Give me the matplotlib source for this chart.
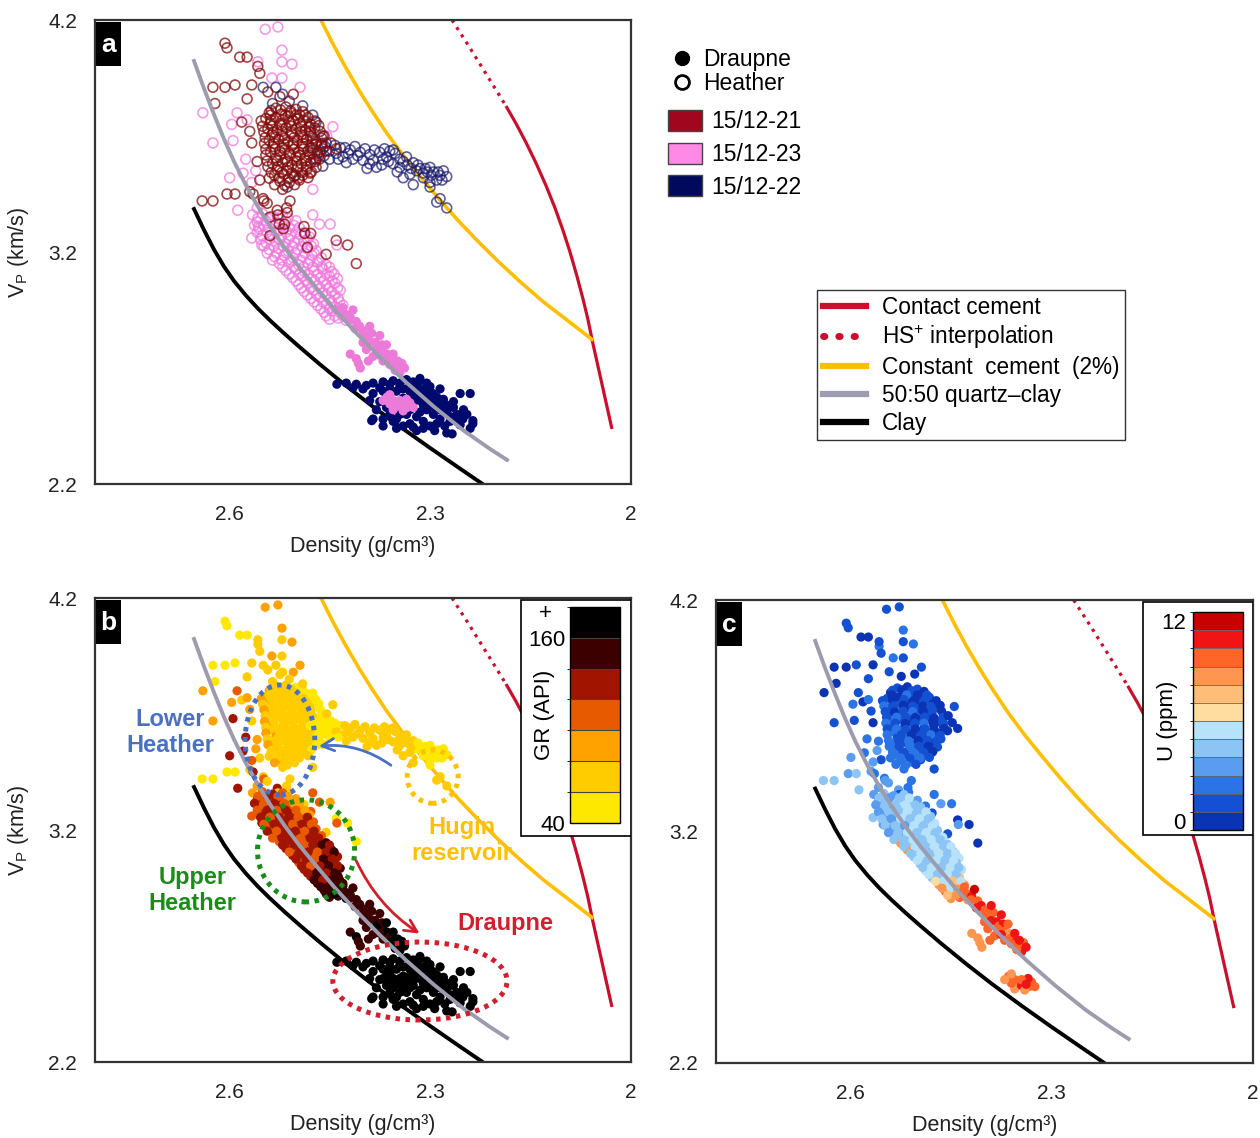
import numpy as np
import matplotlib
matplotlib.use('Agg')
import matplotlib.pyplot as plt
from matplotlib.colors import ListedColormap, BoundaryNorm
from matplotlib.patches import Ellipse, Rectangle, Patch, FancyArrowPatch
from matplotlib.lines import Line2D
import matplotlib.cm as cm

plt.rcParams['font.family'] = ['Liberation Sans', 'DejaVu Sans']
plt.rcParams['mathtext.fontset'] = 'custom'
plt.rcParams['mathtext.rm'] = 'Liberation Sans'
plt.rcParams['mathtext.it'] = 'Liberation Sans:italic'
plt.rcParams['mathtext.bf'] = 'Liberation Sans:bold'

# ---------------- model curves (density g/cm3, Vp km/s) ----------------
CLAY_RHO = [2.6522, 2.6373, 2.6224, 2.6075, 2.5925, 2.5746, 2.5567, 2.5388, 2.5179, 2.4940,
            2.4642, 2.4269, 2.3896, 2.3448, 2.3000, 2.2552, 2.2224, 2.2030]
CLAY_VP = [3.3853, 3.2948, 3.2108, 3.1375, 3.0750, 3.0121, 2.9560, 2.9052, 2.8496, 2.7888,
           2.7155, 2.6272, 2.5431, 2.4474, 2.3556, 2.2664, 2.2017, 2.1630]
QC5050_RHO = [2.6522, 2.6373, 2.6224, 2.6075, 2.5925, 2.5761, 2.5582, 2.5388, 2.5179, 2.4955,
              2.4701, 2.4418, 2.4104, 2.3746, 2.3358, 2.2940, 2.2493, 2.2104, 2.1851]
QC5050_VP = [4.0233, 3.9047, 3.7927, 3.6871, 3.5901, 3.4953, 3.4022, 3.3112, 3.2224, 3.1358,
             3.0466, 2.9500, 2.8522, 2.7466, 2.6388, 2.5328, 2.4293, 2.3509, 2.3039]
CONST_RHO = [2.4627, 2.4448, 2.4269, 2.4075, 2.3866, 2.3642, 2.3403, 2.3149, 2.2881, 2.2597,
             2.2299, 2.1985, 2.1657, 2.1313, 2.0955, 2.0582]
CONST_VP = [4.2000, 4.0966, 4.0009, 3.9043, 3.8078, 3.7108, 3.6177, 3.5267, 3.4341, 3.3409,
            3.2504, 3.1603, 3.0724, 2.9862, 2.9065, 2.8233]
CONTACT_RHO = [2.1866, 2.1716, 2.1567, 2.1418, 2.1269, 2.1134, 2.1015, 2.0910, 2.0806, 2.0716,
               2.0642, 2.0582, 2.0284]
CONTACT_VP = [3.8293, 3.7539, 3.6720, 3.5836, 3.4866, 3.3897, 3.2931, 3.1996, 3.0953, 2.9970,
              2.9086, 2.8233, 2.4371]
HS_RHO = [2.2672, 2.2403, 2.2134, 2.1866]
HS_VP = [4.2000, 4.0793, 3.9543, 3.8293]

# ---------------- well-log points: (density, Vp, GR [API], U [ppm]) ----------------
W21_HEATHER = [  # 15/12-21 Heather
    (2.606, 4.10, 50, 1.5), (2.603, 4.08, 50, 1.5), (2.584, 4.04, 55, 0.5), (2.573, 4.04, 55, 0.5),
    (2.557, 4.00, 70, 2.5), (2.554, 3.97, 70, 1.5), (2.624, 3.91, 50, 0.5), (2.606, 3.91, 50, 0.5),
    (2.591, 3.92, 55, 1.5), (2.566, 3.92, 70, 0.5), (2.621, 3.84, 50, 0.5), (2.573, 3.86, 70, 1.5),
    (2.581, 3.76, 75, 0.5), (2.569, 3.72, 85, 1.5), (2.566, 3.67, 70, 0.5), (2.558, 3.59, 85, 2.5),
    (2.554, 3.51, 70, 1.5), (2.542, 3.89, 70, 1.5), (2.524, 3.87, 70, 0.5), (2.504, 3.88, 85, 0.5),
    (2.479, 3.54, 65, 0.5),
    (2.640, 3.42, 50, 4.5), (2.624, 3.42, 50, 4.5), (2.603, 3.45, 55, 3.5), (2.591, 3.45, 55, 4.5),
    (2.569, 3.46, 70, 3.5), (2.549, 3.43, 70, 2.5), (2.528, 3.38, 130, 3.5), (2.539, 3.35, 110, 4.5),
    (2.564, 3.45, 130, 2.5), (2.548, 3.42, 110, 3.5),
    (2.509, 3.42, 70, 2.5), (2.527, 3.36, 70, 1.5), (2.517, 3.32, 130, 3.5), (2.488, 3.31, 70, 2.5),
    (2.478, 3.28, 110, 1.5), (2.483, 3.22, 130, 2.5), (2.455, 3.19, 70, 1.5), (2.423, 3.23, 55, 0.5),
    (2.410, 3.15, 55, 0.5), (2.525, 3.32, 130, 3.5), (2.514, 3.39, 65, 2.5), (2.543, 3.41, 70, 3.5),
    (2.519, 3.30, 110, 3.5), (2.513, 3.37, 65, 2.5), (2.487, 3.28, 90, 2.5), (2.539, 3.27, 130, 3.5),
    (2.440, 3.25, 55, 0.5),
    (2.530, 3.820, 70, 1.5), (2.515, 3.825, 70, 0.5), (2.500, 3.815, 55, 1.5),
    (2.540, 3.800, 85, 0.5), (2.522, 3.795, 70, 1.5), (2.508, 3.800, 70, 2.5), (2.490, 3.805, 55, 0.5),
    (2.545, 3.775, 70, 1.5), (2.530, 3.780, 70, 0.5), (2.512, 3.785, 70, 1.5), (2.497, 3.775, 65, 0.5), (2.482, 3.780, 55, 1.5),
    (2.538, 3.755, 85, 2.5), (2.524, 3.750, 70, 1.5), (2.510, 3.760, 70, 0.5), (2.494, 3.755, 70, 1.5), (2.478, 3.750, 65, 0.5),
    (2.542, 3.730, 70, 1.5), (2.528, 3.725, 70, 2.5), (2.515, 3.735, 70, 0.5), (2.500, 3.730, 70, 1.5), (2.486, 3.725, 65, 0.5), (2.472, 3.735, 55, 1.5),
    (2.536, 3.705, 85, 1.5), (2.520, 3.700, 70, 0.5), (2.507, 3.710, 70, 1.5), (2.492, 3.705, 70, 2.5), (2.478, 3.700, 65, 0.5),
    (2.540, 3.680, 70, 2.5), (2.526, 3.685, 70, 1.5), (2.512, 3.675, 70, 0.5), (2.498, 3.680, 70, 1.5), (2.484, 3.685, 65, 0.5), (2.470, 3.675, 55, 1.5),
    (2.534, 3.655, 85, 1.5), (2.520, 3.650, 70, 2.5), (2.505, 3.660, 70, 1.5), (2.490, 3.655, 70, 0.5), (2.476, 3.650, 65, 1.5),
    (2.538, 3.630, 70, 2.5), (2.524, 3.635, 70, 1.5), (2.510, 3.625, 70, 0.5), (2.496, 3.630, 70, 1.5), (2.482, 3.635, 65, 2.5), (2.468, 3.625, 55, 0.5),
    (2.530, 3.605, 85, 1.5), (2.516, 3.600, 70, 2.5), (2.500, 3.610, 70, 1.5), (2.487, 3.605, 70, 0.5), (2.474, 3.600, 65, 1.5),
    (2.535, 3.580, 70, 2.5), (2.520, 3.585, 70, 1.5), (2.506, 3.575, 70, 2.5), (2.492, 3.580, 70, 1.5), (2.478, 3.585, 65, 0.5),
    (2.528, 3.555, 85, 2.5), (2.513, 3.550, 70, 1.5), (2.498, 3.560, 70, 2.5), (2.484, 3.555, 70, 1.5),
    (2.532, 3.530, 70, 2.5), (2.518, 3.535, 70, 1.5), (2.503, 3.525, 70, 2.5), (2.490, 3.530, 65, 1.5),
    (2.524, 3.505, 85, 2.5), (2.510, 3.500, 70, 2.5), (2.495, 3.510, 70, 1.5),
    (2.462, 3.660, 55, 0.5), (2.455, 3.635, 55, 0.5), (2.458, 3.700, 55, 1.5), (2.448, 3.670, 55, 0.5),
    (2.465, 3.600, 55, 1.5), (2.440, 3.645, 55, 0.5),
    (2.537, 3.810, 70, 1.5), (2.523, 3.812, 70, 0.5), (2.508, 3.808, 65, 1.5), (2.494, 3.790, 55, 0.5),
    (2.538, 3.790, 70, 0.5), (2.516, 3.790, 70, 2.5), (2.500, 3.790, 70, 0.5), (2.486, 3.790, 55, 1.5),
    (2.552, 3.765, 85, 1.5), (2.537, 3.768, 70, 0.5), (2.520, 3.770, 70, 1.5), (2.504, 3.766, 70, 0.5), (2.489, 3.768, 65, 1.5), (2.472, 3.765, 55, 0.5),
    (2.550, 3.742, 70, 2.5), (2.535, 3.743, 70, 1.5), (2.521, 3.745, 70, 0.5), (2.507, 3.742, 70, 1.5), (2.492, 3.742, 70, 0.5), (2.480, 3.740, 65, 1.5), (2.466, 3.745, 55, 0.5),
    (2.548, 3.718, 85, 1.5), (2.534, 3.716, 70, 0.5), (2.521, 3.720, 70, 1.5), (2.507, 3.718, 70, 2.5), (2.492, 3.720, 70, 0.5), (2.478, 3.716, 65, 1.5), (2.464, 3.720, 55, 0.5),
    (2.546, 3.693, 70, 1.5), (2.531, 3.694, 70, 2.5), (2.517, 3.690, 70, 1.5), (2.503, 3.693, 70, 0.5), (2.489, 3.694, 70, 1.5), (2.475, 3.690, 65, 0.5), (2.462, 3.692, 55, 1.5),
    (2.547, 3.668, 85, 2.5), (2.533, 3.668, 70, 1.5), (2.518, 3.666, 70, 0.5), (2.504, 3.668, 70, 1.5), (2.490, 3.668, 70, 2.5), (2.476, 3.666, 65, 0.5), (2.461, 3.668, 55, 1.5),
    (2.545, 3.643, 70, 1.5), (2.531, 3.643, 70, 2.5), (2.517, 3.641, 70, 1.5), (2.503, 3.643, 70, 0.5), (2.489, 3.643, 70, 1.5), (2.475, 3.641, 65, 0.5), (2.460, 3.645, 55, 0.5),
    (2.545, 3.618, 85, 2.5), (2.524, 3.618, 70, 1.5), (2.509, 3.616, 70, 0.5), (2.494, 3.618, 70, 1.5), (2.480, 3.618, 65, 2.5), (2.466, 3.615, 55, 1.5),
    (2.543, 3.593, 70, 2.5), (2.528, 3.593, 70, 1.5), (2.513, 3.591, 70, 2.5), (2.499, 3.593, 70, 0.5), (2.485, 3.593, 70, 1.5), (2.471, 3.590, 65, 1.5),
    (2.542, 3.568, 85, 2.5), (2.527, 3.568, 70, 1.5), (2.512, 3.566, 70, 2.5), (2.498, 3.568, 70, 1.5), (2.484, 3.568, 65, 0.5), (2.470, 3.565, 55, 1.5),
    (2.537, 3.543, 70, 2.5), (2.521, 3.543, 70, 1.5), (2.506, 3.541, 70, 2.5), (2.491, 3.543, 65, 1.5), (2.477, 3.545, 55, 0.5),
    (2.540, 3.518, 70, 2.5), (2.525, 3.518, 70, 2.5), (2.511, 3.516, 70, 1.5), (2.496, 3.518, 70, 2.5), (2.482, 3.520, 65, 1.5),
    (2.532, 3.490, 85, 2.5), (2.517, 3.488, 70, 2.5), (2.502, 3.490, 70, 1.5), (2.520, 3.470, 70, 2.5),
]

W23_HEATHER = [  # 15/12-23 Heather
    (2.546, 4.16, 90, 1.5), (2.527, 4.17, 90, 1.5), (2.521, 4.07, 90, 2.5), (2.521, 4.02, 70, 1.5),
    (2.506, 4.01, 90, 2.5), (2.557, 4.02, 70, 1.5), (2.536, 3.95, 90, 2.5), (2.521, 3.95, 70, 1.5),
    (2.494, 3.91, 85, 1.5), (2.639, 3.80, 90, 0.5), (2.624, 3.67, 90, 1.5), (2.594, 3.68, 130, 1.5),
    (2.596, 3.75, 90, 2.5), (2.588, 3.80, 110, 1.5), (2.573, 3.77, 90, 2.5), (2.599, 3.52, 130, 3.5),
    (2.579, 3.54, 130, 2.5), (2.566, 3.50, 110, 3.5), (2.475, 3.47, 70, 1.5), (2.445, 3.74, 65, 1.5),
    (2.454, 3.70, 65, 0.5), (2.558, 3.39, 90, 3.5), (2.587, 3.38, 130, 4.5), (2.475, 3.36, 110, 2.5),
    (2.575, 3.60, 130, 2.5), (2.560, 3.55, 90, 3.5), (2.566, 3.26, 110, 4.5), (2.551, 3.23, 130, 3.5),
    (2.556, 3.31, 110, 4.5), (2.439, 3.23, 110, 3.5), (2.449, 3.32, 90, 2.5), (2.465, 3.32, 110, 3.5),
    (2.565, 3.360, 90, 3.5), (2.550, 3.365, 110, 4.5), (2.535, 3.355, 130, 3.5), (2.520, 3.360, 110, 4.5),
    (2.558, 3.330, 130, 3.5), (2.545, 3.335, 110, 4.5), (2.530, 3.325, 130, 5.5), (2.515, 3.330, 110, 4.5), (2.500, 3.335, 90, 3.5),
    (2.555, 3.300, 110, 4.5), (2.540, 3.305, 130, 3.5), (2.525, 3.295, 130, 4.5), (2.510, 3.300, 110, 5.5), (2.495, 3.305, 90, 4.5),
    (2.550, 3.270, 130, 3.5), (2.536, 3.275, 130, 4.5), (2.522, 3.265, 110, 5.5), (2.508, 3.270, 130, 4.5), (2.493, 3.275, 110, 5.5), (2.480, 3.265, 90, 4.5),
    (2.545, 3.240, 130, 4.5), (2.530, 3.245, 110, 3.5), (2.516, 3.235, 130, 4.5), (2.502, 3.240, 130, 5.5), (2.488, 3.245, 110, 4.5), (2.474, 3.235, 110, 5.5),
    (2.540, 3.210, 110, 3.5), (2.526, 3.215, 130, 4.5), (2.512, 3.205, 130, 5.5), (2.498, 3.210, 110, 4.5), (2.484, 3.215, 130, 5.5), (2.470, 3.205, 110, 4.5),
    (2.532, 3.180, 130, 4.5), (2.518, 3.185, 130, 3.5), (2.504, 3.175, 110, 4.5), (2.490, 3.180, 130, 5.5), (2.476, 3.185, 130, 4.5), (2.462, 3.175, 110, 5.5),
    (2.525, 3.150, 110, 8.5), (2.510, 3.155, 130, 4.5), (2.496, 3.145, 130, 5.5), (2.482, 3.150, 110, 4.5), (2.468, 3.155, 130, 5.5), (2.455, 3.145, 150, 4.5),
    (2.515, 3.120, 130, 8.5), (2.500, 3.125, 110, 4.5), (2.487, 3.115, 130, 3.5), (2.473, 3.120, 130, 6.5), (2.460, 3.125, 110, 5.5), (2.447, 3.115, 150, 4.5),
    (2.505, 3.090, 130, 4.5), (2.490, 3.095, 130, 5.5), (2.477, 3.085, 110, 4.5), (2.463, 3.090, 130, 5.5), (2.450, 3.095, 150, 4.5), (2.438, 3.085, 130, 5.5),
    (2.496, 3.060, 110, 4.5), (2.482, 3.065, 130, 5.5), (2.468, 3.055, 130, 4.5), (2.455, 3.060, 150, 5.5), (2.442, 3.065, 130, 4.5),
    (2.488, 3.030, 130, 5.5), (2.474, 3.035, 130, 4.5), (2.460, 3.025, 150, 5.5), (2.447, 3.030, 130, 4.5), (2.434, 3.035, 150, 5.5),
    (2.478, 3.000, 130, 4.5), (2.464, 3.005, 150, 5.5), (2.450, 2.995, 130, 4.5), (2.437, 3.000, 150, 7.5),
    (2.468, 2.970, 150, 8.5), (2.455, 2.975, 150, 5.5), (2.442, 2.965, 130, 7.5), (2.430, 2.970, 150, 8.5),
    (2.458, 2.940, 150, 9.5), (2.446, 2.945, 150, 8.5), (2.433, 2.935, 170, 7.5),
    (2.450, 2.910, 150, 8.5), (2.437, 2.915, 150, 9.5), (2.425, 2.905, 170, 8.5),
    (2.557, 3.345, 110, 4.5), (2.542, 3.345, 130, 3.5), (2.527, 3.345, 110, 4.5), (2.512, 3.345, 90, 5.5),
    (2.562, 3.315, 130, 3.5), (2.548, 3.315, 110, 4.5), (2.533, 3.315, 130, 4.5), (2.518, 3.315, 110, 5.5), (2.503, 3.315, 90, 4.5),
    (2.558, 3.285, 110, 3.5), (2.543, 3.285, 130, 4.5), (2.529, 3.285, 110, 4.5), (2.515, 3.285, 130, 5.5), (2.500, 3.285, 110, 4.5), (2.487, 3.285, 90, 5.5),
    (2.553, 3.255, 130, 4.5), (2.539, 3.255, 110, 3.5), (2.525, 3.255, 130, 5.5), (2.511, 3.255, 130, 4.5), (2.497, 3.255, 110, 5.5), (2.483, 3.255, 130, 4.5),
    (2.548, 3.225, 110, 4.5), (2.533, 3.225, 130, 4.5), (2.519, 3.225, 130, 3.5), (2.505, 3.225, 110, 5.5), (2.491, 3.225, 130, 4.5), (2.477, 3.225, 110, 5.5),
    (2.543, 3.195, 130, 3.5), (2.529, 3.195, 110, 4.5), (2.515, 3.195, 130, 5.5), (2.501, 3.195, 130, 4.5), (2.487, 3.195, 110, 5.5), (2.473, 3.195, 130, 4.5),
    (2.535, 3.165, 110, 4.5), (2.521, 3.165, 130, 4.5), (2.507, 3.165, 130, 5.5), (2.493, 3.165, 110, 4.5), (2.479, 3.165, 130, 5.5), (2.466, 3.165, 130, 4.5),
    (2.520, 3.135, 130, 4.5), (2.503, 3.135, 130, 5.5), (2.489, 3.135, 110, 4.5), (2.475, 3.135, 130, 5.5), (2.461, 3.135, 150, 4.5), (2.450, 3.135, 130, 5.5),
    (2.510, 3.105, 110, 4.5), (2.495, 3.105, 130, 5.5), (2.482, 3.105, 130, 4.5), (2.468, 3.105, 110, 5.5), (2.455, 3.105, 130, 4.5), (2.443, 3.105, 150, 5.5),
    (2.500, 3.075, 130, 5.5), (2.485, 3.075, 130, 4.5), (2.472, 3.075, 110, 5.5), (2.459, 3.075, 150, 4.5), (2.446, 3.075, 130, 5.5),
    (2.492, 3.045, 130, 4.5), (2.478, 3.045, 110, 5.5), (2.464, 3.045, 130, 4.5), (2.451, 3.045, 150, 5.5), (2.438, 3.045, 130, 4.5),
    (2.483, 3.015, 130, 5.5), (2.469, 3.015, 150, 4.5), (2.455, 3.015, 130, 5.5), (2.442, 3.015, 150, 4.5),
    (2.473, 2.985, 150, 6.5), (2.460, 2.985, 130, 5.5), (2.447, 2.985, 150, 7.5), (2.435, 2.985, 150, 5.5),
    (2.463, 2.955, 150, 8.5), (2.450, 2.955, 150, 5.5), (2.438, 2.955, 150, 7.5),
    (2.455, 2.925, 150, 7.5), (2.442, 2.925, 170, 8.5), (2.430, 2.925, 150, 9.5),
]

W23_DRAUPNE = [  # 15/12-23 Draupne
    (2.425, 2.93, 150, 9.5), (2.419, 2.92, 150, 10.5), (2.410, 2.90, 150, 9.5), (2.405, 2.88, 150, 10.5),
    (2.400, 2.86, 150, 9.5), (2.394, 2.83, 170, 10.5), (2.387, 2.85, 150, 9.5), (2.382, 2.81, 150, 10.5),
    (2.379, 2.79, 170, 9.5), (2.372, 2.80, 150, 10.5), (2.370, 2.77, 150, 9.5), (2.364, 2.76, 170, 8.5),
    (2.360, 2.74, 150, 9.5), (2.355, 2.72, 170, 10.5), (2.350, 2.70, 170, 9.5), (2.345, 2.68, 170, 10.5),
    (2.419, 2.76, 150, 8.5), (2.404, 2.70, 150, 8.5), (2.410, 2.74, 170, 8.5), (2.385, 2.75, 150, 9.5),
    (2.395, 2.78, 150, 9.5), (2.400, 2.81, 150, 9.5), (2.390, 2.88, 150, 10.5), (2.375, 2.84, 150, 10.5),
    (2.365, 2.80, 170, 9.5), (2.355, 2.76, 170, 10.5), (2.342, 2.72, 170, 9.5), (2.338, 2.70, 170, 10.5),
    (2.440, 2.95, 150, 8.5), (2.430, 2.96, 150, 9.5), (2.415, 2.95, 150, 11.5),
    (2.432, 2.94, 150, 9.5), (2.420, 2.905, 150, 9.5), (2.412, 2.87, 150, 10.5), (2.397, 2.845, 150, 9.5),
    (2.390, 2.815, 150, 10.5), (2.380, 2.78, 170, 9.5), (2.375, 2.755, 150, 10.5), (2.360, 2.715, 170, 9.5),
    (2.348, 2.73, 170, 10.5), (2.352, 2.69, 170, 9.5), (2.370, 2.73, 150, 9.5), (2.407, 2.72, 150, 8.5),
    (2.392, 2.73, 150, 9.5),
    (2.364, 2.575, 170, 9.5), (2.349, 2.550, 170, 8.5), (2.334, 2.530, 170, 9.5), (2.355, 2.520, 170, 8.5),
    (2.360, 2.545, 170, 9.5), (2.345, 2.535, 170, 10.5), (2.330, 2.550, 170, 9.5), (2.370, 2.560, 170, 8.5),
    (2.355, 2.560, 170, 9.5), (2.340, 2.515, 170, 8.5), (2.325, 2.530, 170, 9.5), (2.335, 2.565, 170, 10.5),
    (2.360, 2.585, 170, 8.5), (2.345, 2.560, 170, 9.5), (2.338, 2.540, 170, 10.5),
]

W22_HEATHER = [  # 15/12-22 Heather (no U log)
    (2.549, 3.91, 70), (2.530, 3.91, 70), (2.520, 3.88, 65), (2.490, 3.83, 65), (2.475, 3.79, 55),
    (2.470, 3.76, 55), (2.480, 3.72, 65), (2.460, 3.70, 55), (2.455, 3.67, 55), (2.501, 3.53, 65),
    (2.513, 3.48, 70), (2.470, 3.60, 55), (2.460, 3.57, 55), (2.535, 3.84, 70), (2.510, 3.85, 65),
    (2.479, 3.65, 55), (2.464, 3.63, 55), (2.450, 3.635, 55), (2.434, 3.65, 55), (2.419, 3.64, 65),
    (2.404, 3.63, 65), (2.390, 3.62, 65), (2.375, 3.63, 65), (2.365, 3.61, 70), (2.360, 3.635, 65),
    (2.345, 3.60, 65), (2.334, 3.575, 65), (2.325, 3.585, 65), (2.315, 3.56, 55), (2.304, 3.545, 55),
    (2.295, 3.545, 55), (2.285, 3.53, 55), (2.290, 3.51, 55), (2.325, 3.49, 65), (2.394, 3.56, 65),
    (2.380, 3.565, 65), (2.349, 3.545, 65), (2.340, 3.52, 65), (2.310, 3.52, 55), (2.300, 3.50, 55),
    (2.290, 3.415, 65), (2.275, 3.39, 65), (2.450, 3.60, 55), (2.430, 3.61, 65), (2.415, 3.60, 65),
    (2.400, 3.595, 65), (2.355, 3.64, 65), (2.335, 3.61, 65), (2.320, 3.55, 55), (2.300, 3.565, 55),
    (2.280, 3.55, 55), (2.275, 3.525, 55), (2.355, 3.58, 65), (2.330, 3.535, 65), (2.370, 3.60, 65),
    (2.440, 3.625, 65), (2.425, 3.585, 65),
    (2.470, 3.665, 55), (2.457, 3.655, 55), (2.442, 3.66, 55), (2.427, 3.65, 65), (2.412, 3.655, 65),
    (2.397, 3.645, 65), (2.383, 3.64, 65), (2.368, 3.645, 65), (2.352, 3.625, 65), (2.340, 3.59, 65),
    (2.328, 3.56, 65), (2.318, 3.575, 55), (2.307, 3.56, 55), (2.298, 3.53, 55), (2.288, 3.545, 55),
    (2.282, 3.51, 55), (2.310, 3.54, 55), (2.345, 3.565, 65), (2.362, 3.59, 65), (2.385, 3.595, 65),
    (2.408, 3.615, 65), (2.422, 3.625, 65), (2.437, 3.60, 55), (2.458, 3.615, 55), (2.390, 3.58, 65),
    (2.372, 3.575, 65), (2.300, 3.48, 55), (2.285, 3.43, 65),
]

W22_DRAUPNE = [  # 15/12-22 Draupne (no U log)
    (2.439, 2.630, 170), (2.425, 2.635, 170), (2.410, 2.630, 170), (2.395, 2.625, 170), (2.385, 2.635, 170),
    (2.370, 2.640, 170), (2.355, 2.645, 170), (2.345, 2.635, 170), (2.335, 2.650, 170), (2.325, 2.640, 170),
    (2.315, 2.655, 170), (2.305, 2.635, 170), (2.300, 2.620, 170), (2.390, 2.560, 170), (2.375, 2.555, 170),
    (2.385, 2.590, 170), (2.370, 2.600, 170), (2.360, 2.610, 170), (2.350, 2.600, 170), (2.340, 2.610, 170),
    (2.330, 2.600, 170), (2.320, 2.610, 170), (2.310, 2.590, 170), (2.315, 2.560, 170), (2.300, 2.575, 170),
    (2.290, 2.575, 170), (2.325, 2.575, 170), (2.305, 2.520, 170), (2.290, 2.530, 170), (2.275, 2.510, 170),
    (2.280, 2.545, 170), (2.265, 2.530, 170), (2.251, 2.480, 170), (2.260, 2.500, 170), (2.240, 2.590, 170),
    (2.255, 2.590, 170), (2.236, 2.460, 170), (2.245, 2.500, 170), (2.385, 2.480, 170), (2.370, 2.450, 170),
    (2.387, 2.473, 170), (2.300, 2.450, 170), (2.275, 2.420, 170), (2.267, 2.416, 170), (2.293, 2.430, 170),
    (2.320, 2.490, 170), (2.310, 2.470, 170), (2.335, 2.500, 170), (2.350, 2.480, 170), (2.330, 2.460, 170),
    (2.285, 2.480, 170), (2.270, 2.470, 170), (2.255, 2.455, 170), (2.295, 2.500, 170), (2.340, 2.570, 170),
    (2.325, 2.550, 170), (2.310, 2.540, 170), (2.295, 2.555, 170), (2.280, 2.565, 170), (2.265, 2.555, 170),
    (2.250, 2.520, 170), (2.236, 2.473, 170), (2.240, 2.440, 170), (2.320, 2.430, 170), (2.350, 2.440, 170),
    (2.360, 2.500, 170), (2.300, 2.600, 170), (2.285, 2.610, 170),
    (2.345, 2.620, 170), (2.330, 2.625, 170), (2.318, 2.635, 170), (2.308, 2.610, 170), (2.296, 2.590, 170),
    (2.320, 2.590, 170), (2.305, 2.560, 170), (2.290, 2.560, 170), (2.275, 2.540, 170), (2.285, 2.520, 170),
    (2.270, 2.490, 170), (2.260, 2.475, 170), (2.300, 2.535, 170), (2.315, 2.510, 170), (2.330, 2.520, 170),
    (2.345, 2.500, 170), (2.355, 2.470, 170), (2.340, 2.450, 170), (2.325, 2.445, 170), (2.310, 2.440, 170),
    (2.290, 2.460, 170), (2.278, 2.450, 170), (2.360, 2.630, 170), (2.375, 2.615, 170), (2.400, 2.610, 170),
    (2.415, 2.615, 170), (2.370, 2.480, 170), (2.380, 2.520, 170), (2.365, 2.530, 170), (2.250, 2.500, 170),
]

WELL_NAMES = ['15/12-21', '15/12-23', '15/12-22']
WELL_COLORS = ['#a0061e', '#ff8ae6', '#000a5c']
GR_BOUNDS = [40, 60, 80, 100, 120, 140, 160, 180]
GR_COLORS = ['#ffe800', '#ffcc00', '#ffa200', '#e85a00', '#a01400', '#3c0000', '#000000']
U_BOUNDS = list(range(0, 13))
U_COLORS = ['#0a34b4', '#1450d2', '#2a74e6', '#5a9cf0', '#8cc4f5', '#b6e2fa',
            '#ffdca0', '#ffbe78', '#ff9650', '#ff6428', '#f01414', '#c80000']
LINE_LABELS = ['Contact cement', 'HS$^{+}$ interpolation', 'Constant  cement  (2%)',
               '50:50 quartz\u2013clay', 'Clay']

W = 1260
H = 1138


def arr(rows):
    return np.array(rows, dtype=float)


def fig_rect(x0, y0, x1, y1):
    return [x0 / W, 1 - y1 / H, (x1 - x0) / W, (y1 - y0) / H]


C_RED = '#c8102e'
C_YEL = '#ffbf00'
C_GRY = '#9c9cae'


def setup_axes(ax, letter, ylab=True):
    ax.set_xlim(2.8, 2.0)
    ax.set_ylim(2.2, 4.2)
    ax.set_xticks([2.6, 2.3, 2.0])
    ax.set_xticklabels(['2.6', '2.3', '2'])
    ax.set_yticks([2.2, 3.2, 4.2])
    ax.set_yticklabels(['2.2', '3.2', '4.2'])
    ax.tick_params(length=0, labelsize=15, colors='#222222')
    ax.tick_params(axis='x', pad=15)
    ax.tick_params(axis='y', pad=13)
    for s in ax.spines.values():
        s.set_linewidth(1.6)
        s.set_color('#333333')
    ax.set_xlabel('Density (g/cm\u00b3)', fontsize=15.5, color='#222222')
    ax.xaxis.set_label_coords(0.5, -0.112)
    if ylab:
        ax.set_ylabel('V$_\\mathrm{P}$ (km/s)', fontsize=15.5, color='#222222')
        ax.yaxis.set_label_coords(-0.12, 0.5)
    ax.add_patch(Rectangle((0.002, 0.9), 0.046, 0.095, transform=ax.transAxes,
                           facecolor='black', edgecolor='none', zorder=8))
    ax.text(0.025, 0.947, letter, transform=ax.transAxes, color='white', fontsize=19,
            fontweight='bold', ha='center', va='center', zorder=9)


def draw_curves(ax):
    ax.plot(CONTACT_RHO, CONTACT_VP, color=C_RED, lw=2.3, zorder=2, solid_capstyle='butt',
            solid_joinstyle='round')
    ax.plot(HS_RHO, HS_VP, color=C_RED, lw=2.3, ls=(0, (1, 1.7)), zorder=2)
    ax.plot(CONST_RHO, CONST_VP, color=C_YEL, lw=2.6, zorder=2, solid_joinstyle='round')
    ax.plot(QC5050_RHO, QC5050_VP, color=C_GRY, lw=2.8, zorder=4, solid_joinstyle='round')
    ax.plot(CLAY_RHO, CLAY_VP, color='black', lw=2.8, zorder=2, solid_joinstyle='round')


fig = plt.figure(figsize=(W / 100, H / 100), dpi=100)

# ---------------- panel a ----------------
axa = fig.add_axes(fig_rect(95, 20, 631, 484))
setup_axes(axa, 'a')
draw_curves(axa)
w23h = arr(W23_HEATHER)
w22h = arr(W22_HEATHER)
w21h = arr(W21_HEATHER)
w23d = arr(W23_DRAUPNE)
w22d = arr(W22_DRAUPNE)
open_kw = dict(s=50, facecolors='none', linewidths=1.2, zorder=3)
axa.scatter(w23h[:, 0], w23h[:, 1], edgecolors='#f07adf', alpha=0.75, **open_kw)
axa.scatter(w22h[:, 0], w22h[:, 1], edgecolors='#1c1c6e', alpha=0.7, **open_kw)
axa.scatter(w21h[:, 0], w21h[:, 1], edgecolors='#820a0a', alpha=0.75, **open_kw)
axa.scatter(w22d[:, 0], w22d[:, 1], s=44, color='#000a6e', edgecolors='none', zorder=3)
axa.scatter(w23d[:, 0], w23d[:, 1], s=44, color='#ec7ad8', edgecolors='none', zorder=3)

# legends
h_mark = [Line2D([], [], marker='o', ls='', color='black', markersize=10),
          Line2D([], [], marker='o', ls='', markerfacecolor='white', markeredgecolor='black',
                 markeredgewidth=2, markersize=10)]
fig.legend(h_mark, ['Draupne', 'Heather'], loc='upper left',
           bbox_to_anchor=(671 / W, 1 - 48 / H), frameon=False, fontsize=16.5,
           handlelength=1.0, handletextpad=0.4, labelspacing=0.05,
           borderpad=0, borderaxespad=0)
h_well = [Patch(facecolor=c, edgecolor='#444444', linewidth=1) for c in WELL_COLORS]
fig.legend(h_well, WELL_NAMES, loc='upper left',
           bbox_to_anchor=(668 / W, 1 - 110 / H), frameon=False, fontsize=16.5,
           handlelength=1.5, handleheight=1.05, handletextpad=0.4,
           labelspacing=0.4, borderpad=0, borderaxespad=0)
h_line = [Line2D([], [], color=C_RED, lw=4.5),
          Line2D([], [], color=C_RED, lw=5, ls=(0, (0.2, 2.0)), dash_capstyle='round'),
          Line2D([], [], color=C_YEL, lw=4.5),
          Line2D([], [], color=C_GRY, lw=4.5),
          Line2D([], [], color='black', lw=4.5)]
leg3 = fig.legend(h_line, LINE_LABELS, loc='upper left',
                  bbox_to_anchor=(817 / W, 1 - 290 / H), frameon=True, fancybox=False,
                  edgecolor='black', fontsize=16.3, handlelength=1.9, handletextpad=0.7,
                  labelspacing=0.21, borderpad=0.25, borderaxespad=0)
leg3.get_frame().set_linewidth(1.0)

# ---------------- panel b ----------------
gr_cmap = ListedColormap(GR_COLORS)
gr_norm = BoundaryNorm(GR_BOUNDS, gr_cmap.N)
axb = fig.add_axes(fig_rect(95, 598, 631, 1062))
setup_axes(axb, 'b')
draw_curves(axb)
dot_kw = dict(s=44, edgecolors='none', zorder=3)
for grp in (w21h, w22h, w23h, w23d, w22d):
    axb.scatter(grp[:, 0], grp[:, 1], c=grp[:, 2], cmap=gr_cmap, norm=gr_norm, **dot_kw)

dot_style = dict(fill=False, lw=3.6, ls=(0, (0.9, 1.1)), zorder=5)
axb.add_patch(Ellipse((2.524, 3.588), 0.104, 0.474, edgecolor='#4a70c4', **dot_style))
axb.add_patch(Ellipse((2.296, 3.430), 0.076, 0.230, edgecolor='#ffc000', **dot_style))
axb.add_patch(Ellipse((2.485, 3.110), 0.145, 0.440, edgecolor='#1a8c1a', **dot_style))
axb.add_patch(Ellipse((2.315, 2.549), 0.260, 0.336, edgecolor='#d0202e', **dot_style))
axb.add_patch(FancyArrowPatch((2.355, 3.472), (2.470, 3.560), connectionstyle='arc3,rad=0.2',
                              arrowstyle='->', mutation_scale=22, lw=2, color='#4a70c4', zorder=6))
axb.add_patch(FancyArrowPatch((2.412, 3.079), (2.312, 2.747), connectionstyle='arc3,rad=0.15',
                              arrowstyle='->', mutation_scale=22, lw=2, color='#d0202e', zorder=6))
ann_kw = dict(fontsize=17, fontweight='bold', ha='center', va='center', linespacing=1.15, zorder=7)
axb.text(2.688, 3.62, 'Lower\nHeather', color='#4a70c4', **ann_kw)
axb.text(2.654, 2.94, 'Upper\nHeather', color='#1a8c1a', **ann_kw)
axb.text(2.252, 3.155, 'Hugin\nreservoir', color='#ffc000', **ann_kw)
axb.text(2.188, 2.795, 'Draupne', color='#d0202e', **ann_kw)

# GR colour bar
axb.add_patch(Rectangle((0.795, 0.487), 0.205, 0.509, transform=axb.transAxes,
                        facecolor='white', edgecolor='black', lw=1.2, zorder=8))
caxb = axb.inset_axes([0.886, 0.515, 0.093, 0.466], zorder=9)
cbb = fig.colorbar(cm.ScalarMappable(norm=gr_norm, cmap=gr_cmap), cax=caxb,
                   ticks=[40, 160], drawedges=True)
cbb.ax.yaxis.set_ticks_position('left')
cbb.ax.set_yticklabels(['40', '160'])
cbb.ax.tick_params(length=0, labelsize=16, pad=3)
cbb.dividers.set_color('#444444')
cbb.dividers.set_linewidth(0.8)
cbb.outline.set_linewidth(1.0)
caxb.text(-0.5, 0.97, '+', transform=caxb.transAxes, fontsize=16, ha='center', va='center')
caxb.text(-0.5, 0.5, 'GR (API)', transform=caxb.transAxes, fontsize=16, rotation=90,
          ha='center', va='center')

# ---------------- panel c ----------------
u_cmap = ListedColormap(U_COLORS)
u_norm = BoundaryNorm(U_BOUNDS, u_cmap.N)
axc = fig.add_axes(fig_rect(716, 600, 1253, 1063))
setup_axes(axc, 'c', ylab=False)
draw_curves(axc)
for grp in (w21h, w23h, w23d):
    axc.scatter(grp[:, 0], grp[:, 1], c=grp[:, 3], cmap=u_cmap, norm=u_norm, **dot_kw)

axc.add_patch(Rectangle((0.795, 0.492), 0.205, 0.504, transform=axc.transAxes,
                        facecolor='white', edgecolor='black', lw=1.2, zorder=8))
caxc = axc.inset_axes([0.888, 0.503, 0.093, 0.471], zorder=9)
cbc = fig.colorbar(cm.ScalarMappable(norm=u_norm, cmap=u_cmap), cax=caxc,
                   ticks=[0.5, 11.5], drawedges=True)
cbc.ax.yaxis.set_ticks_position('left')
cbc.ax.set_yticklabels(['0', '12'])
cbc.ax.tick_params(length=0, labelsize=16, pad=5)
cbc.dividers.set_color('#666666')
cbc.dividers.set_linewidth(0.6)
cbc.outline.set_linewidth(1.0)
caxc.text(-0.5, 0.5, 'U (ppm)', transform=caxc.transAxes, fontsize=16, rotation=90,
          ha='center', va='center')

fig.savefig('out.png', dpi=100, facecolor='white')
